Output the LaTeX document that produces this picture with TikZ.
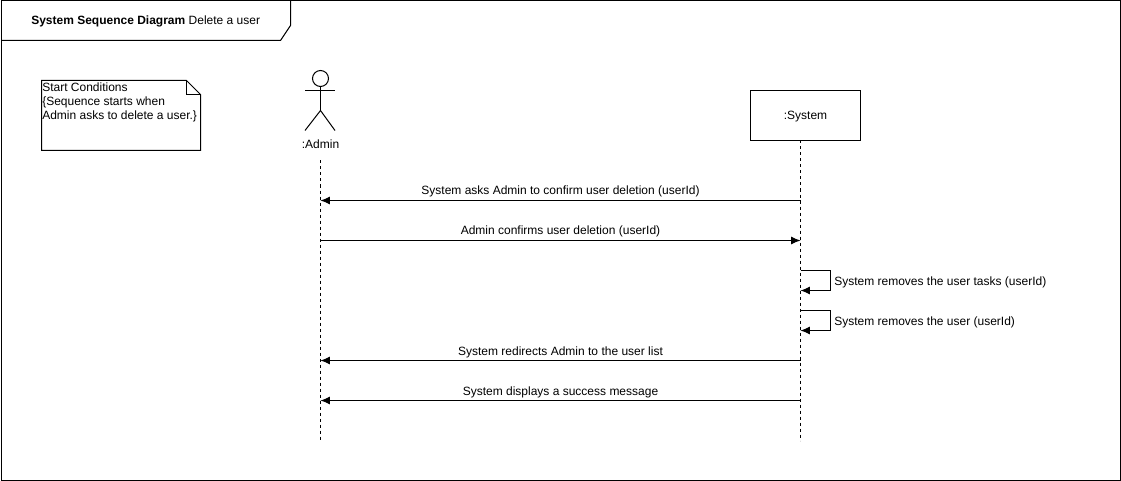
\documentclass[tikz,border=0pt]{standalone}
\usepackage{fontspec}
\setmainfont{Liberation Sans}
\usetikzlibrary{arrows.meta,positioning}

\tikzset{
    line/.style={draw, line width=0.75pt},
    lifeline/.style={line, dash pattern=on 2.25pt off 2.25pt},
    msg/.style={line, -{Latex[length=7pt,width=6pt]}},
    msgtext/.style={font=\fontsize{9}{10.5}\selectfont, inner sep=0pt},
    msglabel/.style={msgtext, text height=6.5pt, text depth=2pt, above=2pt},
}

\begin{document}
\begin{tikzpicture}[x=0.75pt, y=-0.75pt]
    \useasboundingbox (-0.5,-0.5) rectangle (1120.5,480.5);

    % frame and its title tab
    \draw[line] (0.5,0.5) rectangle (1120,480);
    \draw[line] (0.5,40) -- (280,40) -- (290,25) -- (290,0.5);
    \node[msgtext, anchor=west] (title) at (30.5,21) {\textbf{System Sequence Diagram} Delete a user};

    % note
    \draw[line] (41,80) -- (186,80) -- (200,94) -- (200,150) -- (41,150) -- cycle;
    \draw[line] (186,80) -- (186,94) -- (200,94);
    \node[msgtext, anchor=north west, align=left] (note) at (41.5,82.5) {Start Conditions\\\{Sequence starts when\\Admin asks to delete a user.\}};

    % admin actor
    \draw[line] (320,78) circle (8);
    \draw[line] (320,86) -- (320,110);
    \draw[line] (304.5,90) -- (334.5,90);
    \draw[line] (304.5,130) -- (320,110) -- (334.5,130);
    \node[msgtext] (admin) at (320,144) {:Admin};

    % system box
    \node[draw, line width=0.75pt, minimum width=82.5pt, minimum height=37.5pt, msgtext] (system) at (805,115) {};
    \node[msgtext] (systemtext) at (805,116) {:System};

    % lifelines
    \coordinate (adminend) at (320,440);
    \coordinate (systemend) at (800,440);
    \coordinate (adminstart) at (320,160);
    \coordinate (systemstart) at (800,140);
    \draw[lifeline] (adminstart) -- (adminend);
    \draw[lifeline] (systemstart) -- (systemend);

    % message ends
    \coordinate (aconfirm) at (320,200);
    \coordinate (sconfirm) at (800,200);
    \coordinate (aanswer) at (320,240);
    \coordinate (sanswer) at (800,240);
    \coordinate (tasksout) at (800,270);
    \coordinate (tasksin) at (800,290);
    \coordinate (userout) at (800,310);
    \coordinate (userin) at (800,330);
    \coordinate (aredirect) at (320,360);
    \coordinate (sredirect) at (800,360);
    \coordinate (asuccess) at (320,400);
    \coordinate (ssuccess) at (800,400);

    % messages
    \draw[msg] (sconfirm) -- node[msglabel] (confirmtext) {System asks Admin to confirm user deletion (userId)} (aconfirm);
    \draw[msg] (aanswer) -- node[msglabel] (answertext) {Admin confirms user deletion (userId)} (sanswer);
    \draw[msg] (tasksout) -- ++(30,0) -- ++(0,20) -- (tasksin);
    \node[msgtext, anchor=west] (taskstext) at (833.5,281.5) {System removes the user tasks (userId)};
    \draw[msg] (userout) -- ++(30,0) -- ++(0,20) -- (userin);
    \node[msgtext, anchor=west] (usertext) at (833.5,321.5) {System removes the user (userId)};
    \draw[msg] (sredirect) -- node[msglabel, above=1.25pt] (redirecttext) {System redirects Admin to the user list} (aredirect);
    \draw[msg] (ssuccess) -- node[msglabel, above=1.25pt] (successtext) {System displays a success message} (asuccess);
\end{tikzpicture}
\end{document}
